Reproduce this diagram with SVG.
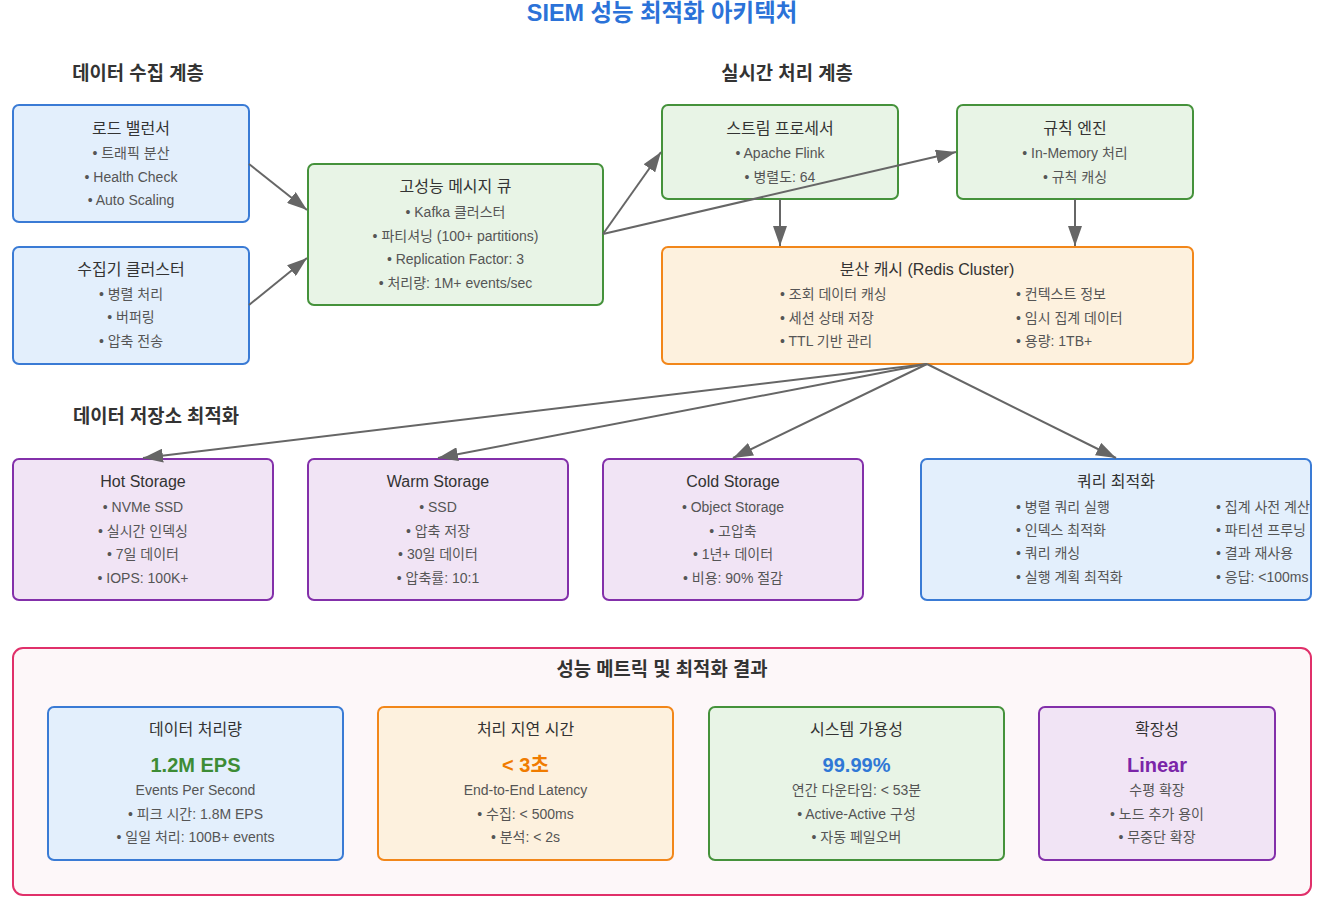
<svg xmlns="http://www.w3.org/2000/svg" width="1326" height="904" viewBox="0 0 1326 904">
<defs>
<style>
text{font-family:"Liberation Sans","Noto Sans CJK KR",sans-serif;text-anchor:middle}
.title{font-size:23.4px;font-weight:bold;fill:#2b72d8}
.sec{font-size:18.8px;font-weight:bold;fill:#333}
.nt{font-size:16px;fill:#333}
.it{font-size:14px;fill:#555}
.st{text-anchor:start}
.val{font-size:20px;font-weight:bold}
.blue{fill:#e3effc;stroke:#3a7bd5;stroke-width:2}
.green{fill:#e8f4e6;stroke:#45923b;stroke-width:2}
.orange{fill:#fdf1de;stroke:#f2871a;stroke-width:2}
.purple{fill:#f1e4f5;stroke:#8330aa;stroke-width:2}
.pink{fill:#fdf7f9;stroke:#e0306a;stroke-width:2}
.conn{stroke:#666;stroke-width:2;fill:none;marker-end:url(#arr)}
</style>
<marker id="arr" viewBox="0 0 10 7" refX="10" refY="3.5" markerWidth="10" markerHeight="7" orient="auto">
<path d="M0,0 L10,3.5 L0,7 Z" fill="#666"/>
</marker>
<clipPath id="qclip"><rect x="921" y="459" width="390" height="141" rx="6"/></clipPath>
</defs>
<rect width="1326" height="904" fill="#fff"/>
<text class="title" x="662" y="21">SIEM 성능 최적화 아키텍처</text>
<text class="sec" x="138" y="80">데이터 수집 계층</text>
<text class="sec" x="787" y="80">실시간 처리 계층</text>
<text class="sec" x="156" y="423">데이터 저장소 최적화</text>

<g id="lb">
<rect class="blue" x="13" y="105" width="236" height="117" rx="6"/>
<text class="nt" x="131" y="134">로드 밸런서</text>
<text class="it" x="131" y="158">• 트래픽 분산</text>
<text class="it" x="131" y="182">• Health Check</text>
<text class="it" x="131" y="205">• Auto Scaling</text>
</g>
<g id="collector">
<rect class="blue" x="13" y="247" width="236" height="117" rx="6"/>
<text class="nt" x="131" y="275">수집기 클러스터</text>
<text class="it" x="131" y="299">• 병렬 처리</text>
<text class="it" x="131" y="322">• 버퍼링</text>
<text class="it" x="131" y="346">• 압축 전송</text>
</g>
<g id="queue">
<rect class="green" x="308" y="164" width="295" height="141" rx="6"/>
<text class="nt" x="455.5" y="192">고성능 메시지 큐</text>
<text class="it" x="455.5" y="217">• Kafka 클러스터</text>
<text class="it" x="455.5" y="241">• 파티셔닝 (100+ partitions)</text>
<text class="it" x="455.5" y="264">• Replication Factor: 3</text>
<text class="it" x="455.5" y="288">• 처리량: 1M+ events/sec</text>
</g>
<g id="stream">
<rect class="green" x="662" y="105" width="236" height="94" rx="6"/>
<text class="nt" x="780" y="134">스트림 프로세서</text>
<text class="it" x="780" y="158">• Apache Flink</text>
<text class="it" x="780" y="182">• 병렬도: 64</text>
</g>
<g id="rule">
<rect class="green" x="957" y="105" width="236" height="94" rx="6"/>
<text class="nt" x="1075" y="134">규칙 엔진</text>
<text class="it" x="1075" y="158">• In-Memory 처리</text>
<text class="it" x="1075" y="182">• 규칙 캐싱</text>
</g>
<g id="cache">
<rect class="orange" x="662" y="247" width="531" height="117" rx="6"/>
<text class="nt" x="927" y="275">분산 캐시 (Redis Cluster)</text>
<text class="it st" x="780" y="299">• 조회 데이터 캐싱</text>
<text class="it st" x="780" y="323">• 세션 상태 저장</text>
<text class="it st" x="780" y="346">• TTL 기반 관리</text>
<text class="it st" x="1016" y="299">• 컨텍스트 정보</text>
<text class="it st" x="1016" y="323">• 임시 집계 데이터</text>
<text class="it st" x="1016" y="346">• 용량: 1TB+</text>
</g>
<g id="hot">
<rect class="purple" x="13" y="459" width="260" height="141" rx="6"/>
<text class="nt" x="143" y="487">Hot Storage</text>
<text class="it" x="143" y="512">• NVMe SSD</text>
<text class="it" x="143" y="536">• 실시간 인덱싱</text>
<text class="it" x="143" y="559">• 7일 데이터</text>
<text class="it" x="143" y="583">• IOPS: 100K+</text>
</g>
<g id="warm">
<rect class="purple" x="308" y="459" width="260" height="141" rx="6"/>
<text class="nt" x="438" y="487">Warm Storage</text>
<text class="it" x="438" y="512">• SSD</text>
<text class="it" x="438" y="536">• 압축 저장</text>
<text class="it" x="438" y="559">• 30일 데이터</text>
<text class="it" x="438" y="583">• 압축률: 10:1</text>
</g>
<g id="cold">
<rect class="purple" x="603" y="459" width="260" height="141" rx="6"/>
<text class="nt" x="733" y="487">Cold Storage</text>
<text class="it" x="733" y="512">• Object Storage</text>
<text class="it" x="733" y="536">• 고압축</text>
<text class="it" x="733" y="559">• 1년+ 데이터</text>
<text class="it" x="733" y="583">• 비용: 90% 절감</text>
</g>
<g id="query">
<rect class="blue" x="921" y="459" width="390" height="141" rx="6"/>
<text class="nt" x="1116" y="487">쿼리 최적화</text>
<g clip-path="url(#qclip)">
<text class="it st" x="1016" y="512">• 병렬 쿼리 실행</text>
<text class="it st" x="1016" y="535">• 인덱스 최적화</text>
<text class="it st" x="1016" y="558">• 쿼리 캐싱</text>
<text class="it st" x="1016" y="582">• 실행 계획 최적화</text>
<text class="it st" x="1216" y="512">• 집계 사전 계산</text>
<text class="it st" x="1216" y="535">• 파티션 프루닝</text>
<text class="it st" x="1216" y="558">• 결과 재사용</text>
<text class="it st" x="1216" y="582">• 응답: &lt;100ms</text>
</g>
</g>

<g id="metrics">
<rect class="pink" x="13" y="648" width="1298" height="247" rx="10"/>
<text class="sec" x="662" y="676">성능 메트릭 및 최적화 결과</text>
</g>
<g id="m-throughput">
<rect class="blue" x="48" y="707" width="295" height="153" rx="6"/>
<text class="nt" x="195.5" y="735">데이터 처리량</text>
<text class="val" x="195.5" y="772" fill="#3d8c35">1.2M EPS</text>
<text class="it" x="195.5" y="795">Events Per Second</text>
<text class="it" x="195.5" y="819">• 피크 시간: 1.8M EPS</text>
<text class="it" x="195.5" y="842">• 일일 처리: 100B+ events</text>
</g>
<g id="m-latency">
<rect class="orange" x="378" y="707" width="295" height="153" rx="6"/>
<text class="nt" x="525.5" y="735">처리 지연 시간</text>
<text class="val" x="525.5" y="772" fill="#f07c00">&lt; 3초</text>
<text class="it" x="525.5" y="795">End-to-End Latency</text>
<text class="it" x="525.5" y="819">• 수집: &lt; 500ms</text>
<text class="it" x="525.5" y="842">• 분석: &lt; 2s</text>
</g>
<g id="m-avail">
<rect class="green" x="709" y="707" width="295" height="153" rx="6"/>
<text class="nt" x="856.5" y="735">시스템 가용성</text>
<text class="val" x="856.5" y="772" fill="#2f78d6">99.99%</text>
<text class="it" x="856.5" y="795">연간 다운타임: &lt; 53분</text>
<text class="it" x="856.5" y="819">• Active-Active 구성</text>
<text class="it" x="856.5" y="842">• 자동 페일오버</text>
</g>
<g id="m-scale">
<rect class="purple" x="1039" y="707" width="236" height="153" rx="6"/>
<text class="nt" x="1157" y="735">확장성</text>
<text class="val" x="1157" y="772" fill="#7b25a8">Linear</text>
<text class="it" x="1157" y="795">수평 확장</text>
<text class="it" x="1157" y="819">• 노드 추가 용이</text>
<text class="it" x="1157" y="842">• 무중단 확장</text>
</g>

<g id="connectors">
<line class="conn" x1="249" y1="164" x2="307" y2="210"/>
<line class="conn" x1="249" y1="305" x2="307" y2="258"/>
<line class="conn" x1="603" y1="234" x2="661" y2="152"/>
<line class="conn" x1="603" y1="234" x2="956" y2="152"/>
<line class="conn" x1="780" y1="199" x2="780" y2="246"/>
<line class="conn" x1="1075" y1="199" x2="1075" y2="246"/>
<line class="conn" x1="927" y1="364" x2="143" y2="458"/>
<line class="conn" x1="927" y1="364" x2="438" y2="458"/>
<line class="conn" x1="927" y1="364" x2="733" y2="458"/>
<line class="conn" x1="927" y1="364" x2="1116" y2="458"/>
</g>
</svg>
